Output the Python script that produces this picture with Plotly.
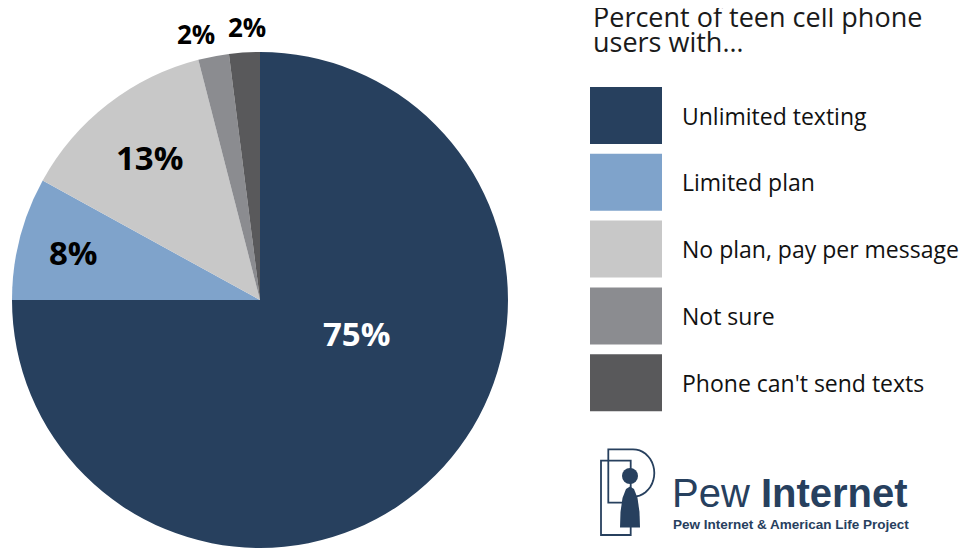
import math
import plotly.graph_objects as go

# ---- data ----
categories = ["Unlimited texting", "Limited plan", "No plan, pay per message",
              "Not sure", "Phone can't send texts"]
values = [75, 8, 13, 2, 2]
colors = ["#27405E", "#7FA3CB", "#C8C8C8", "#8B8C90", "#59595B"]
title_lines = ["Percent of teen cell phone", "users with\u2026"]

# label styling per slice:
# (radius fraction, angle override in degrees clockwise from top or None, x shift px, size, color)
label_style = [
    (0.41, 109.0, 0, 33, "#FFFFFF"),
    (0.775, None, 0, 33, "#000000"),
    (0.728, None, 0, 33, "#000000"),
    (1.09, None, -13, 26, "#000000"),
    (1.105, None, 4, 26, "#000000"),
]

W, H = 969, 548
OFF = 8  # page offset of the plot inside the browser window
NAVY = "#27405E"
FONT = "Open Sans"

# pie placement in window pixels
PIE_CX, PIE_CY, PIE_R = 260, 300, 248


def px(x):
    return (x - OFF) / W


def py(y):
    return 1 - (y - OFF) / H


DOM_X = [px(PIE_CX - PIE_R), px(PIE_CX + PIE_R)]
DOM_Y = [py(PIE_CY + PIE_R), py(PIE_CY - PIE_R)]

fig = go.Figure()
fig.add_trace(go.Pie(
    labels=categories,
    values=values,
    sort=False,
    direction="clockwise",
    rotation=0,
    marker=dict(colors=colors, line=dict(width=0)),
    textinfo="none",
    hoverinfo="label+percent",
    domain=dict(x=DOM_X, y=DOM_Y),
    showlegend=False,
))

shapes = []
annotations = []

# slice labels positioned from the cumulative values
total = sum(values)
cum = 0
for v, st in zip(values, label_style):
    mid = (cum + v / 2) / total * 360
    cum += v
    rf, ang, xs, size, col = st
    a = math.radians(ang if ang is not None else mid)
    lx = PIE_CX + rf * PIE_R * math.sin(a)
    ly = PIE_CY - rf * PIE_R * math.cos(a)
    annotations.append(dict(
        text=f"<b>{v}%</b>", x=px(lx), y=py(ly), xref="paper", yref="paper",
        xanchor="center", yanchor="middle", showarrow=False, xshift=xs,
        font=dict(family=FONT, size=size, color=col)))

# title
for i, line in enumerate(title_lines):
    annotations.append(dict(
        text=line, x=px(591), y=py(17 + 24 * i), xref="paper", yref="paper",
        xanchor="left", yanchor="middle", showarrow=False,
        font=dict(family=FONT, size=27, color="#1A1A1A")))

# custom legend
for i, (lab, col) in enumerate(zip(categories, colors)):
    top = 87 + i * 66.8
    shapes.append(dict(type="rect", xref="paper", yref="paper",
                       x0=px(590), x1=px(662), y0=py(top), y1=py(top + 57),
                       fillcolor=col, line=dict(width=0)))
    annotations.append(dict(
        text=lab, x=px(680), y=py(top + 28.5), xref="paper", yref="paper",
        xanchor="left", yanchor="middle", showarrow=False,
        font=dict(family=FONT, size=23, color="#111111")))

# logo icon
lw = 1.8
shapes.append(dict(type="rect", xref="paper", yref="paper",
                   x0=px(601), x1=px(630.7), y0=py(460.7), y1=py(535),
                   line=dict(color=NAVY, width=lw)))


def path(points, close=False):
    s = "M " + " L ".join(f"{px(x):.5f},{py(y):.5f}" for x, y in points)
    return s + (" Z" if close else "")


p_pts = [(625, 502.7), (608.3, 502.7), (608.3, 449.3), (633, 449.3)]
bowl = [(633 + 21.3 * math.sin(t / 20 * math.pi),
         473 - 23.7 * math.cos(t / 20 * math.pi)) for t in range(0, 21)]
shapes.append(dict(type="path", xref="paper", yref="paper",
                   path=path(p_pts + bowl[1:] + [(637, 498)]),
                   line=dict(color=NAVY, width=lw)))
shapes.append(dict(type="circle", xref="paper", yref="paper",
                   x0=px(622), x1=px(638), y0=py(468), y1=py(484),
                   fillcolor=NAVY, line=dict(width=0)))
body = [(620, 527.5), (620.5, 512), (622.5, 498), (626, 489), (630, 486.5),
        (634, 489), (637.5, 498), (639.5, 512), (640, 527.5)]
shapes.append(dict(type="path", xref="paper", yref="paper",
                   path=path(body, close=True), fillcolor=NAVY, line=dict(width=0)))

annotations.append(dict(
    text="Pew <b>Internet</b>", x=px(670), y=py(493), xref="paper", yref="paper",
    xanchor="left", yanchor="middle", showarrow=False,
    font=dict(family="Liberation Sans", size=40, color=NAVY)))
annotations.append(dict(
    text="<b>Pew Internet &amp; American Life Project</b>", x=px(671), y=py(524),
    xref="paper", yref="paper", xanchor="left", yanchor="middle", showarrow=False,
    font=dict(family="Liberation Sans Narrow, Liberation Sans", size=13.5, color=NAVY)))

fig.update_layout(
    width=W, height=H,
    margin=dict(l=0, r=0, t=0, b=0, autoexpand=False),
    paper_bgcolor="white", plot_bgcolor="white",
    shapes=shapes, annotations=annotations,
)

fig.write_html("out.html")
